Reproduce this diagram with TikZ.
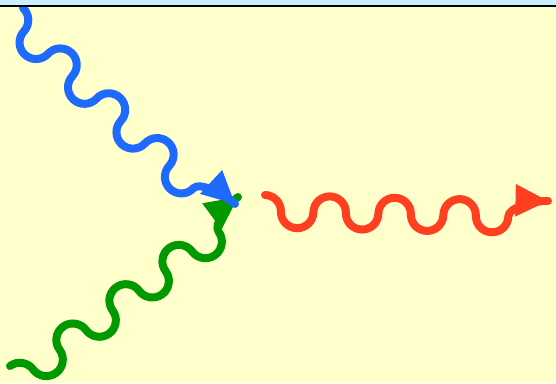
\documentclass[tikz,border=0pt]{standalone}
\definecolor{bgyellow}{RGB}{255,255,204}
\definecolor{topblue}{RGB}{204,238,255}
\definecolor{waveblue}{RGB}{30,106,255}
\definecolor{wavegreen}{RGB}{0,153,0}
\definecolor{wavered}{RGB}{255,64,32}
\tikzset{
  photon/.style={line width=8pt, line cap=round, line join=round},
}
\begin{document}
\begin{tikzpicture}[x=1pt,y=-1pt]
\useasboundingbox (0,0) rectangle (556,383);
\fill[bgyellow] (0,0) rectangle (556,383);

% red wave
\begin{scope}[shift={(265,195)}, rotate=-1.21]
\def\r{16.25}\def\k{8.97}
\coordinate (rs) at (0,0);
\coordinate (rt) at (283.1,0);
\draw[photon, wavered] (rs) .. controls +(\k,0) and +(0,-\k) .. ++(\r,\r)
  \foreach \s in {1,-1,1,-1,1,-1,1} {
    .. controls +(0,{\s*\k}) and +(-\k,0) .. ++(\r,{\s*\r})
    .. controls +(\k,0) and +(0,{\s*\k}) .. ++(\r,{-(\s)*\r})
  }
  .. controls +(0,-\k) and +(-14,0) .. (rt);
\fill[wavered] (rt) -- ++(-32.5,-16.3) -- ++(0,32.6) -- cycle;
\end{scope}

% green wave
\begin{scope}[shift={(10,366)}, rotate=36.55]
\def\r{16.5}\def\k{9.11}
\coordinate (gs) at (0,0);
\coordinate (gt) at (283.8,0);
\draw[photon, wavegreen] (gs) .. controls +(\k,0) and +(0,-\k) .. ++(\r,\r)
  \foreach \s in {1,-1,1,-1,1,-1,1} {
    .. controls +(0,{\s*\k}) and +(-\k,0) .. ++(\r,{\s*\r})
    .. controls +(\k,0) and +(0,{\s*\k}) .. ++(\r,{-(\s)*\r})
  }
  .. controls +(0,-\k) and +(-14,0) .. (gt);
\fill[wavegreen] (gt) -- ++(-32.5,-16.3) -- ++(0,32.6) -- cycle;
\end{scope}

% blue wave
\begin{scope}[shift={(23,8)}, rotate=-42.76]
\def\r{16.5}\def\k{9.11}
\coordinate (bs) at (0,0);
\coordinate (bt) at (288.7,0);
\draw[photon, waveblue] (bs) .. controls +(\k,0) and +(0,-\k) .. ++(\r,\r)
  \foreach \s in {1,-1,1,-1,1,-1,1} {
    .. controls +(0,{\s*\k}) and +(-\k,0) .. ++(\r,{\s*\r})
    .. controls +(\k,0) and +(0,{\s*\k}) .. ++(\r,{-(\s)*\r})
  }
  .. controls +(0,-\k) and +(-14,0) .. (bt);
\fill[waveblue] (bt) -- ++(-32.5,-16.3) -- ++(0,32.6) -- cycle;
\end{scope}

% top strip
\fill[topblue] (0,0) rectangle (556,5);
\draw[line width=2pt, black] (0,6) -- (556,6);
\end{tikzpicture}
\end{document}
